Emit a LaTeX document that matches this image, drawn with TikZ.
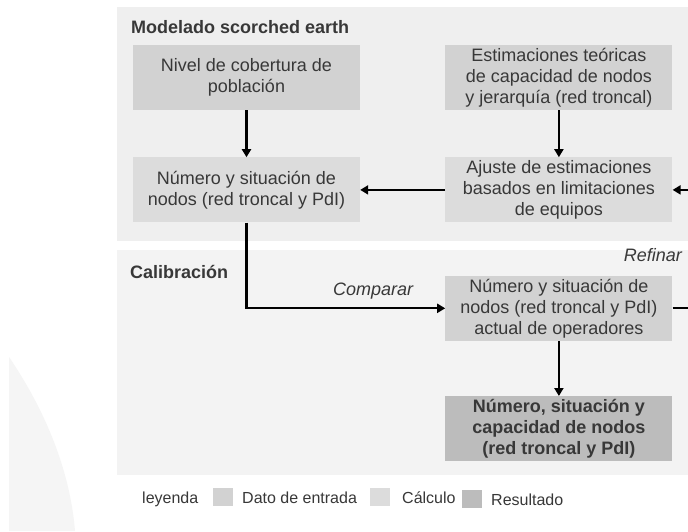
\documentclass[tikz,border=0pt]{standalone}
\usepackage{fontspec}
\setmainfont{Liberation Sans}
\usetikzlibrary{arrows.meta,positioning}
\definecolor{panelA}{HTML}{EFEFEF}
\definecolor{panelB}{HTML}{F3F3F3}
\definecolor{entrada}{HTML}{D2D2D2}
\definecolor{calculo}{HTML}{DCDCDC}
\definecolor{resultado}{HTML}{BCBCBC}
\definecolor{texto}{HTML}{383838}

\begin{document}
\begin{tikzpicture}[x=1pt, y=-1pt, >={Triangle[length=8pt,width=9pt]}, node distance=47pt]
\tikzstyle{caja}=[minimum width=227pt, minimum height=65pt, inner sep=0pt, align=center, text=texto, font=\fontsize{18}{21}\selectfont]
\tikzstyle{titulo}=[anchor=base west, inner sep=0pt, text=texto, font=\fontsize{18}{21}\selectfont\bfseries]
\tikzstyle{etiq}=[anchor=base west, inner sep=0pt, text=texto, font=\fontsize{18}{21}\selectfont\itshape]
\tikzstyle{ley}=[anchor=base west, inner sep=0pt, text=texto, font=\fontsize{16}{18}\selectfont]
\tikzstyle{muestra}=[minimum width=20pt, minimum height=18pt, inner sep=0pt]
\tikzstyle{flecha}=[->, line width=2.2pt]
\useasboundingbox (0,0) rectangle (688,531);
\clip (0,0) rectangle (688,531);
% fondo y paneles
\fill[white] (0,0) rectangle (688,531);
\fill[black!4] (9,357) .. controls (45,410) and (70,470) .. (75,531) -- (9,531) -- cycle;
\fill[panelA] (117,7) rectangle (688,241);
\fill[panelB] (117,250) rectangle (688,475);
\node[titulo] (tmodel) at (131,33) {Modelado scorched earth};
\node[titulo] (tcalib) at (130,278) {Calibración};
% cajas
\node[caja, fill=entrada] (nivel) at (246.5,77.5) {Nivel de cobertura de\\población};
\node[caja, fill=entrada, right=85pt of nivel] (estim) {Estimaciones teóricas\\de capacidad de nodos\\y jerarquía (red troncal)};
\node[caja, fill=calculo, below=of nivel] (numero) {Número y situación de\\nodos (red troncal y PdI)};
\node[caja, fill=calculo, below=of estim] (ajuste) {Ajuste de estimaciones\\basados en limitaciones\\de equipos};
\node[caja, fill=entrada, below=53pt of ajuste] (actual) {Número y situación de\\nodos (red troncal y PdI)\\actual de operadores};
\node[caja, fill=resultado, below=55pt of actual, font=\fontsize{18}{21}\selectfont\bfseries] (result) {Número, situación y\\capacidad de nodos\\(red troncal y PdI)};
\node[etiq] (comp) at (333,295) {Comparar};
\node[etiq, anchor=base east] (ref) at (682,261) {Refinar};
% conectores
\draw[flecha] (nivel) -- (numero);
\draw[flecha] (estim) -- (ajuste);
\draw[flecha] (ajuste) -- (numero);
\draw[flecha] (numero.south) |- (actual.west);
\draw[flecha] (actual.east) -- ++(30,0) |- (ajuste.east);
\draw[flecha] (actual) -- (result);
% leyenda
\node[ley] (ley) at (142,503) {leyenda};
\node[muestra, fill=entrada] (m1) at (223,497) {};
\node[ley] (l1) at (242,503) {Dato de entrada};
\node[muestra, fill=calculo] (m2) at (380,497) {};
\node[ley] (l2) at (402,503) {Cálculo};
\node[muestra, fill=resultado] (m3) at (471.5,499) {};
\node[ley] (l3) at (491,505) {Resultado};
\end{tikzpicture}
\end{document}
